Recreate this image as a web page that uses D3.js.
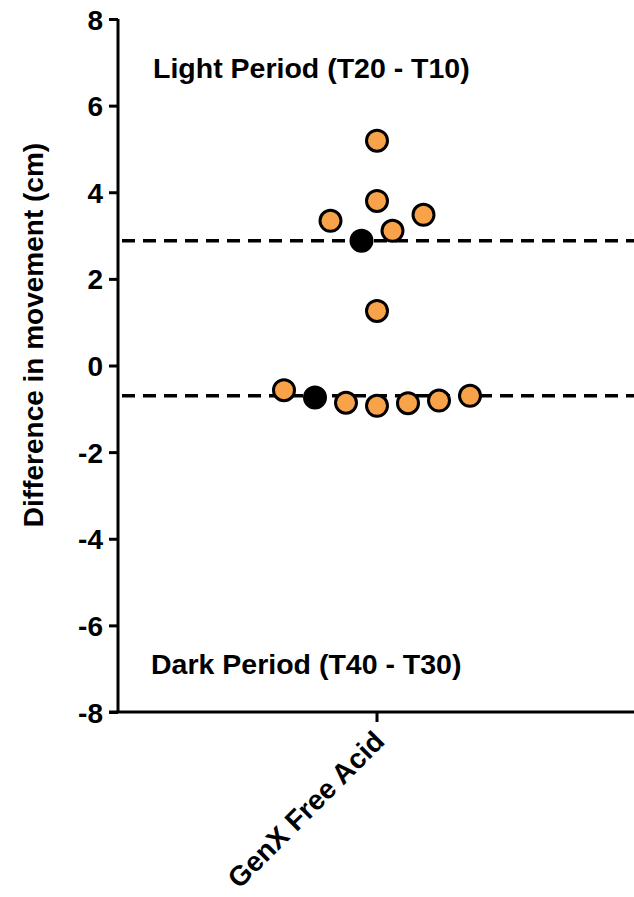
<!DOCTYPE html>
<html>
<head>
<meta charset="utf-8">
<script src="https://cdn.jsdelivr.net/npm/d3@7"></script>
<style>
  body { margin: 0; background: #fff; }
  text { font-family: "Liberation Sans", Arial, sans-serif; font-weight: bold; }
</style>
</head>
<body>
<svg id="chart" width="634" height="897"></svg>
<script>
// data
var categories = ["GenX Free Acid"];
var yTicks = [-8, -6, -4, -2, 0, 2, 4, 6, 8];
// light period: value, horizontal spread slot
var lightVals = [5.19, 3.80, 3.34, 3.48, 3.11, 1.26];
var lightSlot = [0, 0, -1.5, 1.5, 0.5, 0];
var lightRef = [2.88];
var lightRefSlot = [-0.5];
// dark period
var darkVals = [-0.57, -0.86, -0.93, -0.87, -0.81, -0.70];
var darkSlot = [-3, -1, 0, 1, 2, 3];
var darkRef = [-0.74];
var darkRefSlot = [-2];
var meanLines = [2.88, -0.70];

var svg = d3.select('#chart');
var m = {top: 19, left: 118, right: 634, bottom: 712};

var y = d3.scaleLinear().domain([-8, 8]).range([m.bottom, m.top]);
var x = d3.scaleBand().domain(categories).range([m.left, m.right + 2]);
var spread = d3.scaleLinear().domain([-1, 1]).range([-31, 31]);

// dashed lines
svg.selectAll('line.mean')
  .data(meanLines)
  .enter().append('line')
  .attr('class', 'mean')
  .attr('x1', m.left + 4).attr('x2', m.right)
  .attr('y1', function(d) { return y(d); })
  .attr('y2', function(d) { return y(d); })
  .style('stroke', '#000')
  .style('stroke-width', 3.5)
  .style('stroke-dasharray', '13,8');

// y axis
var yAxis = d3.axisLeft(y).tickValues(yTicks).tickSize(9).tickPadding(6)
  .tickFormat(function(d) { return String(d); });
var gy = svg.append('g').attr('transform', 'translate(' + m.left + ',0)').call(yAxis);
gy.select('.domain').attr('d', 'M0,' + m.top + 'V' + m.bottom).style('stroke-width', 3);
gy.selectAll('.tick line').style('stroke-width', 3);
gy.selectAll('.tick text').style('font-size', '28px').attr('dy', '0.36em').style('fill', '#000');

// x axis
var xAxis = d3.axisBottom(x).tickSize(10).tickPadding(10);
var gx = svg.append('g').attr('transform', 'translate(0,' + m.bottom + ')').call(xAxis);
gx.select('.domain').attr('d', 'M' + (m.left - 9) + ',0H' + m.right).style('stroke-width', 3);
gx.selectAll('.tick line').style('stroke-width', 3);
gx.selectAll('.tick text')
  .style('font-size', '28px').style('fill', '#000')
  .attr('text-anchor', 'end')
  .attr('dy', '0.7em')
  .attr('transform', 'translate(-19,3) rotate(-45)');

// points
var cx = x(categories[0]) + x.bandwidth() / 2;
function drawDots(vals, slots, fill) {
  svg.append('g').selectAll('circle')
    .data(vals)
    .enter().append('circle')
    .attr('cx', function(d, i) { return cx + spread(slots[i]); })
    .attr('cy', function(d) { return y(d); })
    .attr('r', 10.5)
    .style('fill', fill)
    .style('stroke', '#000')
    .style('stroke-width', 3);
}
drawDots(lightVals, lightSlot, '#F8A24A');
drawDots(lightRef, lightRefSlot, '#000');
drawDots(darkVals, darkSlot, '#F8A24A');
drawDots(darkRef, darkRefSlot, '#000');

// labels
svg.append('text').attr('x', 153).attr('y', 78).style('font-size', '28.5px').text('Light Period (T20 - T10)');
svg.append('text').attr('x', 151).attr('y', 674).style('font-size', '28.5px').text('Dark Period (T40 - T30)');
svg.append('text')
  .attr('transform', 'translate(43,335) rotate(-90)')
  .attr('text-anchor', 'middle')
  .style('font-size', '28px')
  .text('Difference in movement (cm)');
</script>
</body>
</html>
